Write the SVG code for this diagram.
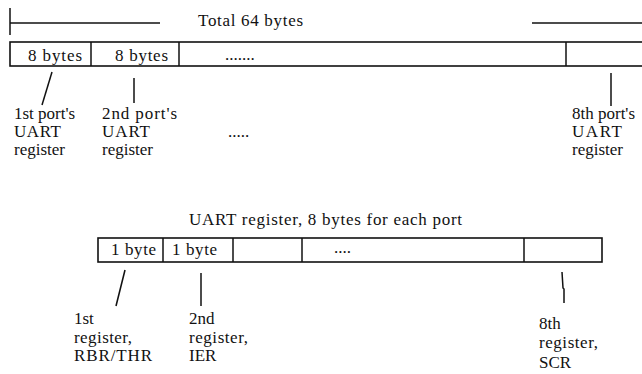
<svg xmlns="http://www.w3.org/2000/svg" width="642" height="374" viewBox="0 0 642 374">
<style>
text{font-family:'Liberation Serif','Times New Roman','DejaVu Serif',serif;font-size:17px;fill:#111}
.ln{stroke:#111;stroke-width:1.5;fill:none}
.box{stroke:#111;stroke-width:1.6;fill:#fff}
</style>
<rect width="642" height="374" fill="#fff"/>
<g id="total-span">
<line class="ln" x1="10" y1="8" x2="10" y2="35"/>
<line class="ln" x1="10" y1="23" x2="160" y2="23"/>
<line class="ln" x1="532" y1="23" x2="642" y2="23"/>
<text x="198" y="26" textLength="105" lengthAdjust="spacing">Total 64 bytes</text>
</g>
<g id="ports-bar">
<rect class="box" x="10" y="42" width="640" height="24"/>
<line class="ln" x1="91" y1="42" x2="91" y2="66"/>
<line class="ln" x1="179" y1="42" x2="179" y2="66"/>
<line class="ln" x1="566" y1="42" x2="566" y2="66"/>
<text x="28" y="61" textLength="54" lengthAdjust="spacing">8 bytes</text>
<text x="115" y="61" textLength="53" lengthAdjust="spacing">8 bytes</text>
<text x="225" y="60">.......</text>
</g>
<g id="port1-label">
<text x="14" y="119">1st port's</text>
<text x="14" y="137" textLength="47" lengthAdjust="spacing">UART</text>
<text x="14" y="155">register</text>
</g>
<g id="port2-label">
<text x="102" y="119" textLength="75" lengthAdjust="spacing">2nd port's</text>
<text x="102" y="137" textLength="48" lengthAdjust="spacing">UART</text>
<text x="102" y="155">register</text>
</g>
<g id="ports-ellipsis"><text x="228" y="137">.....</text></g>
<g id="port8-label">
<text x="572" y="119">8th port's</text>
<text x="572" y="137" textLength="50" lengthAdjust="spacing">UART</text>
<text x="572" y="155">register</text>
</g>
<g id="reg-title"><text x="189" y="225" textLength="273" lengthAdjust="spacing">UART register, 8 bytes for each port</text></g>
<g id="regs-bar">
<rect class="box" x="98" y="238" width="504" height="24"/>
<line class="ln" x1="163" y1="238" x2="163" y2="262"/>
<line class="ln" x1="233" y1="238" x2="233" y2="262"/>
<line class="ln" x1="302" y1="238" x2="302" y2="262"/>
<line class="ln" x1="524" y1="238" x2="524" y2="262"/>
<text x="111" y="255" textLength="45" lengthAdjust="spacing">1 byte</text>
<text x="172" y="255" textLength="45" lengthAdjust="spacing">1 byte</text>
<text x="334" y="253">....</text>
</g>
<g id="reg1-label">
<text x="74" y="324">1st</text>
<text x="74" y="343" textLength="58" lengthAdjust="spacing">register,</text>
<text x="74" y="361" textLength="78" lengthAdjust="spacing">RBR/THR</text>
</g>
<g id="reg2-label">
<text x="189" y="324">2nd</text>
<text x="189" y="343" textLength="59" lengthAdjust="spacing">register,</text>
<text x="189" y="361">IER</text>
</g>
<g id="reg8-label">
<text x="539" y="329">8th</text>
<text x="539" y="348" textLength="59" lengthAdjust="spacing">register,</text>
<text x="539" y="368">SCR</text>
</g>
<g id="connectors">
<line class="ln" x1="52" y1="72" x2="42" y2="105"/>
<line class="ln" x1="134" y1="78" x2="134" y2="103"/>
<line class="ln" x1="611" y1="73" x2="611" y2="106"/>
<line class="ln" x1="125" y1="270" x2="116" y2="306"/>
<line class="ln" x1="201" y1="273" x2="201" y2="306"/>
<polyline class="ln" points="562,272 563,288 564,289 564,303"/>
</g>
</svg>
